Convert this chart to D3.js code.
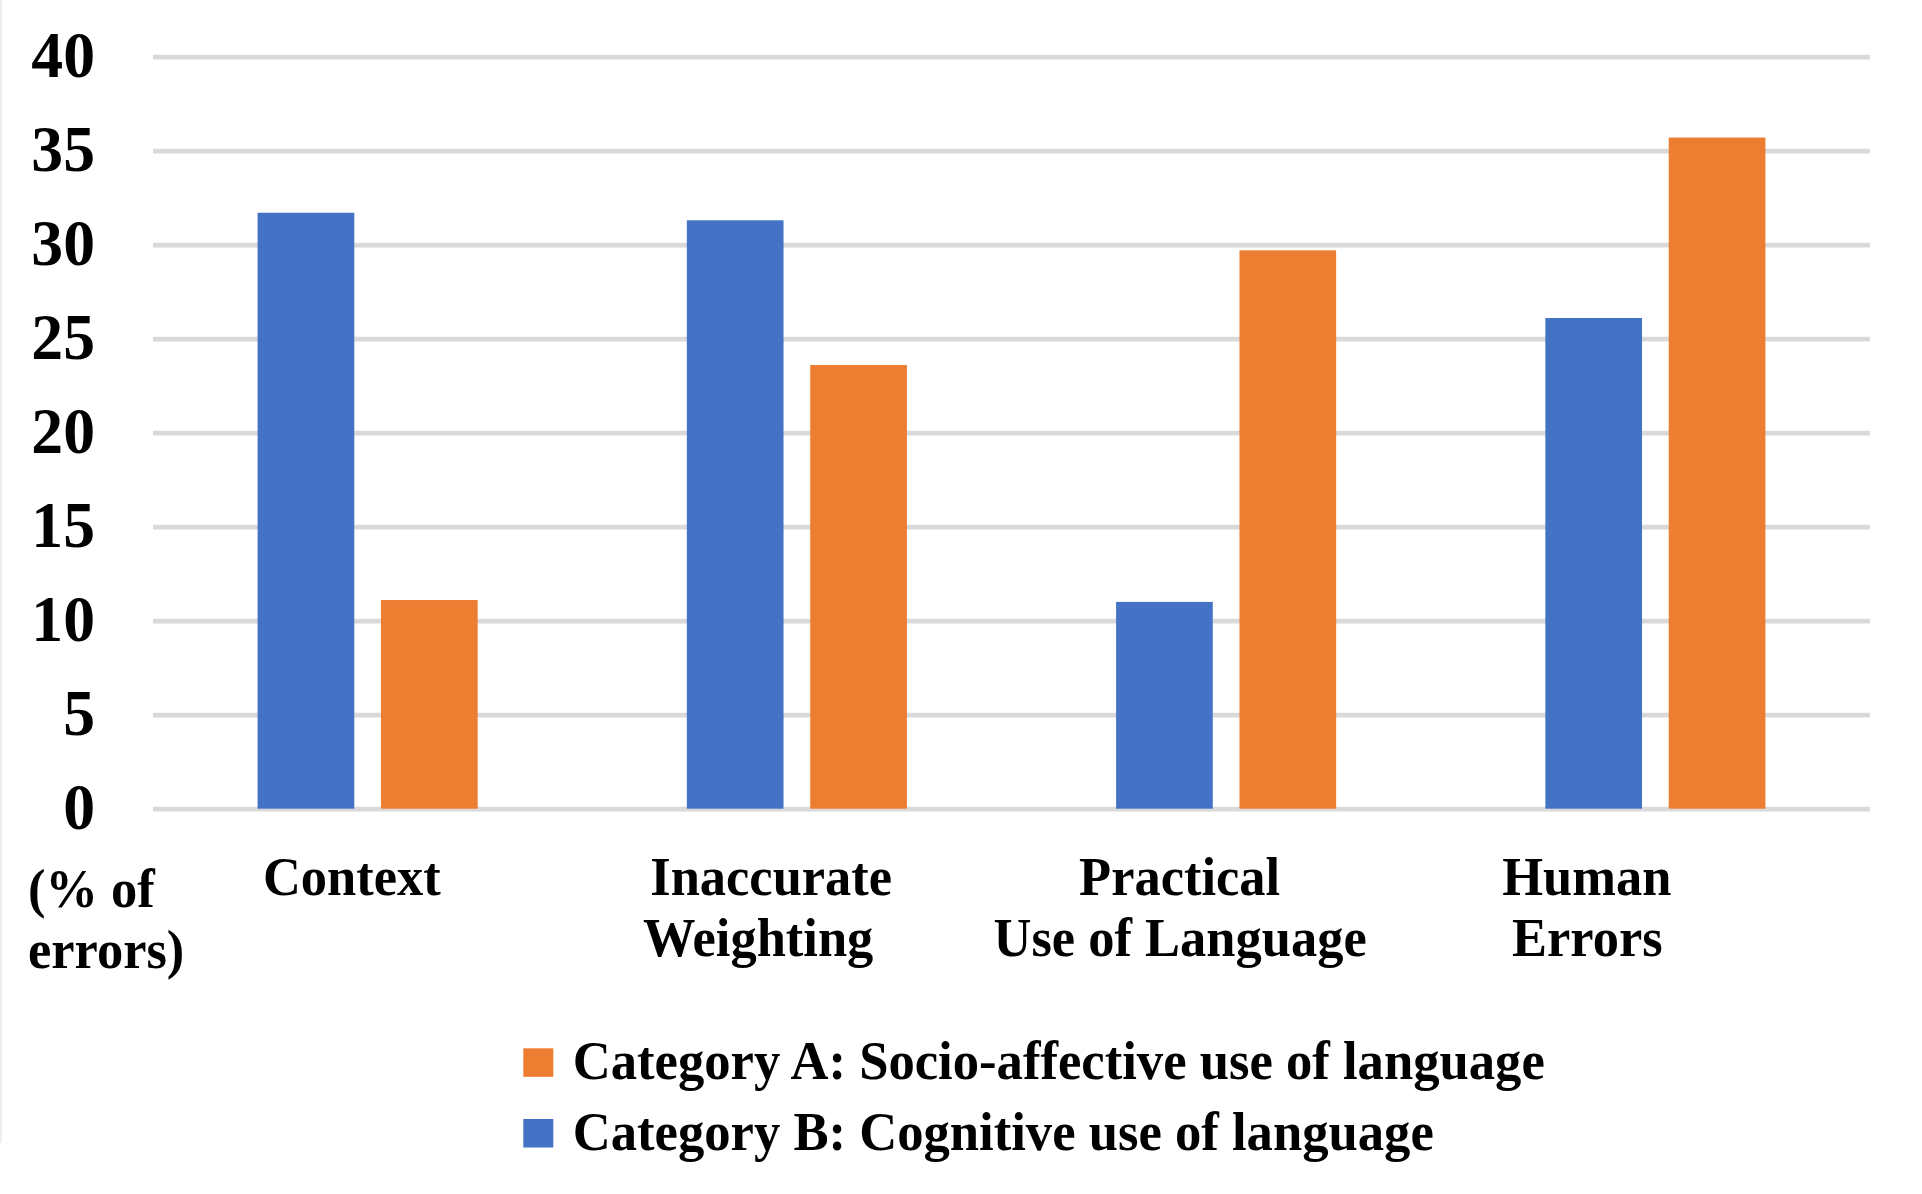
<!DOCTYPE html>
<html>
<head>
<meta charset="utf-8">
<script src="https://cdn.jsdelivr.net/npm/d3@7/dist/d3.min.js"></script>
<style>
  html, body { margin: 0; padding: 0; background: #ffffff; }
  svg { display: block; }
  text { font-family: "Liberation Serif", "Times New Roman", serif; font-weight: bold; fill: #000; }
</style>
</head>
<body>
<svg id="chart" width="1922" height="1194"></svg>
<script>
// ---- data ----
const categories = ["Context", "Inaccurate Weighting", "Practical Use of Language", "Human Errors"];
const categoryLines = [["Context"], ["Inaccurate", "Weighting"], ["Practical", "Use of Language"], ["Human", "Errors"]];
const seriesNames = ["Category B: Cognitive use of language", "Category A: Socio-affective use of language"];
const cognitiveValues = [31.7, 31.3, 11.0, 26.1];   // Category B (blue)
const socioAffectiveValues = [11.1, 23.6, 29.7, 35.7]; // Category A (orange)
const yTicks = [0, 5, 10, 15, 20, 25, 30, 35, 40];
const yAxisTitle = ["(% of", "errors)"];
const legendOrder = ["Category A: Socio-affective use of language", "Category B: Cognitive use of language"];

const colors = {
  "Category B: Cognitive use of language": "#4472C4",
  "Category A: Socio-affective use of language": "#ED7D31"
};

const squeeze = 0.972; // horizontal compression of the serif text, as in the reference
function squeezeAbout(sel, k) {
  sel.each(function() {
    const t = d3.select(this);
    const x = +t.attr("x") || 0;
    t.attr("transform", `translate(${x},0) scale(${k},1) translate(${-x},0)`);
  });
}

const svg = d3.select("#chart");

// faint image border on the left
svg.append("line").attr("x1", 1).attr("x2", 1).attr("y1", 0).attr("y2", 1143)
  .attr("stroke", "#e8e8e8").attr("stroke-width", 1.5);

const plotLeft = 153, plotRight = 1870, plotTop = 56.7, plotBottom = 808.7;

const y = d3.scaleLinear().domain([0, 40]).range([plotBottom, plotTop]);
const x0 = d3.scaleBand().domain(categories).range([plotLeft, plotRight]).padding(0);
const x1 = d3.scaleBand().domain(seriesNames).range([0, x0.bandwidth()])
  .paddingInner(0.2164).paddingOuter(0.8477);

// y axis with gridlines
const yAxis = d3.axisLeft(y).tickValues(yTicks).tickSize(-(plotRight - plotLeft)).tickPadding(58);
const gy = svg.append("g").attr("transform", `translate(${plotLeft},0)`).call(yAxis);
gy.select(".domain").remove();
gy.selectAll(".tick line").attr("stroke", "#d9d9d9").attr("stroke-width", 4.7);
const tickTexts = gy.selectAll(".tick text")
  .attr("font-family", '"Liberation Serif", "Times New Roman", serif')
  .attr("font-weight", "bold")
  .attr("font-size", 66)
  .attr("fill", "#000")
  .attr("dy", "0.3em");
squeezeAbout(tickTexts, 0.965);

// bars
const rows = categories.map((c, i) => ({
  category: c,
  values: [
    { series: seriesNames[0], value: cognitiveValues[i] },
    { series: seriesNames[1], value: socioAffectiveValues[i] }
  ]
}));

const groups = svg.append("g").selectAll("g").data(rows).join("g")
  .attr("transform", d => `translate(${x0(d.category)},0)`);
groups.selectAll("rect").data(d => d.values).join("rect")
  .attr("x", d => x1(d.series))
  .attr("width", x1.bandwidth())
  .attr("y", d => y(d.value))
  .attr("height", d => y(0) - y(d.value))
  .attr("fill", d => colors[d.series]);

// category labels (one text per line), offset from group centres as in the reference
const labelDx = [[-15.8], [-25.7, -38.7], [-46.5, -46], [-68.5, -68]];
const lineHeight = 61;
const labelBaseline = 895;
const labelData = [];
categories.forEach((c, i) => {
  categoryLines[i].forEach((line, j) => {
    labelData.push({ text: line, x: x0(c) + x0.bandwidth() / 2 + labelDx[i][j], y: labelBaseline + j * lineHeight });
  });
});
const catLabels = svg.append("g").selectAll("text").data(labelData).join("text")
  .attr("text-anchor", "middle")
  .attr("font-size", 54)
  .attr("x", d => d.x)
  .attr("y", d => d.y)
  .text(d => d.text);
squeezeAbout(catLabels, squeeze);

// y-axis title (below the axis, left)
const yt = svg.append("g").selectAll("text").data(yAxisTitle).join("text")
  .attr("font-size", 54)
  .attr("x", 28)
  .attr("y", (d, j) => 907 + j * 61)
  .text(d => d);
squeezeAbout(yt, squeeze);

// legend
const legend = svg.append("g");
const legendY = d3.scalePoint().domain(legendOrder).range([1079.3, 1150]);
legend.selectAll("rect").data(legendOrder).join("rect")
  .attr("x", 523.3)
  .attr("y", d => legendY(d) - 31)
  .attr("width", 30)
  .attr("height", 28.5)
  .attr("fill", d => colors[d]);
const legendTexts = legend.selectAll("text").data(legendOrder).join("text")
  .attr("x", 572.7)
  .attr("y", d => legendY(d))
  .attr("font-size", 54)
  .text(d => d);
squeezeAbout(legendTexts, 0.975);
</script>
</body>
</html>
